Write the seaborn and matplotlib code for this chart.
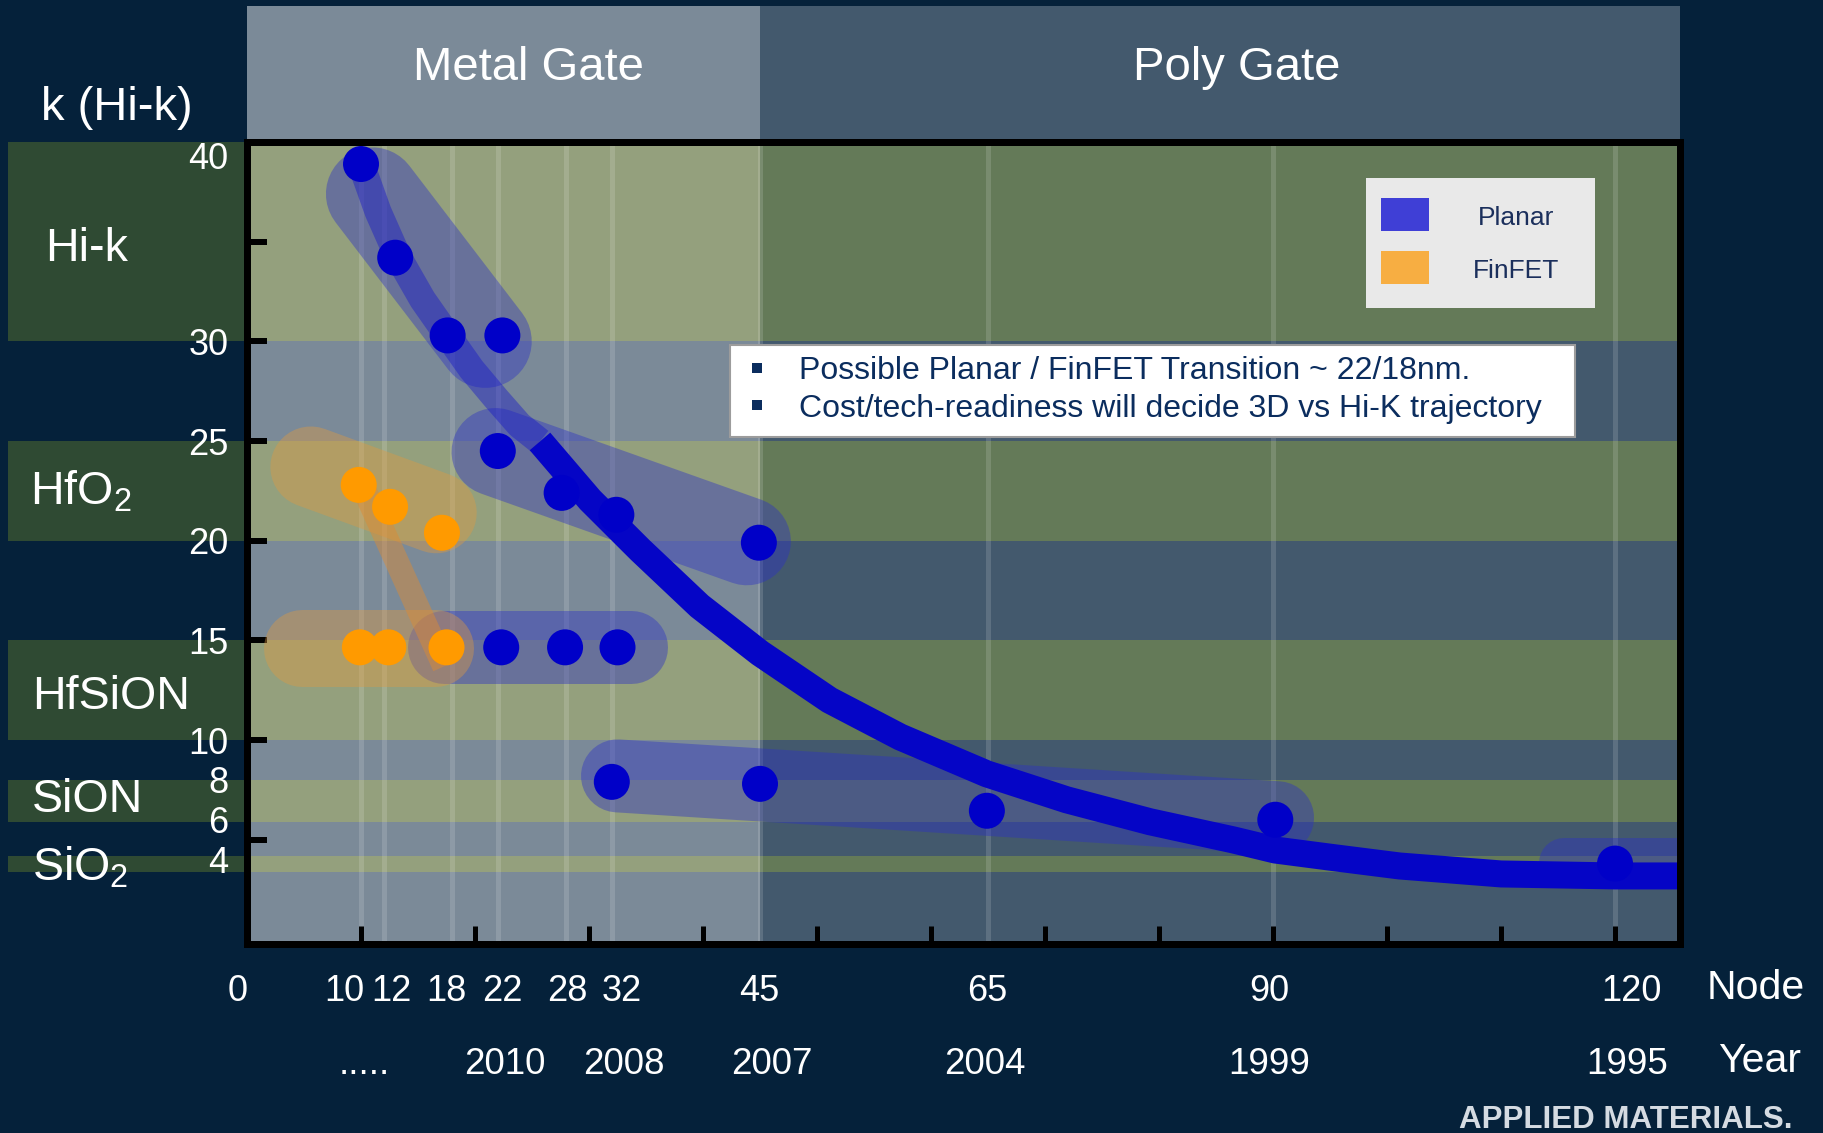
import matplotlib
matplotlib.use("Agg")
import matplotlib.pyplot as plt
from matplotlib.patches import Rectangle
import pandas as pd
import seaborn as sns

# ------------------------------------------------------------------ data
# dielectric constant k against technology node (nm)
planar_node = [10.0, 13.0, 17.6, 22.4, 22.0, 27.6, 32.4, 44.9,
               22.3, 27.9, 32.5, 32.0, 45.0, 64.9, 90.2, 120.0]
planar_k = [38.9, 34.2, 30.3, 30.3, 24.5, 22.4, 21.3, 19.9,
            14.65, 14.65, 14.65, 7.9, 7.8, 6.45, 6.0, 3.8]
finfet_node = [9.8, 12.55, 17.1, 9.9, 12.4, 17.5]
finfet_k = [22.8, 21.7, 20.4, 14.65, 14.65, 14.65]

# k-vs-node trajectory: faded projection below ~25nm, solid history above
trend_early_node = [10.0, 11.5, 13.2, 15.4, 17.6, 19.7, 21.9, 23.9, 25.7]
trend_early_k = [38.9, 36.5, 34.3, 32.1, 30.3, 28.6, 27.1, 25.8, 24.98]
trend_node = [25.7, 30.1, 34.5, 39.7, 45.0, 51.1, 57.3, 64.9, 71.9, 79.2,
              86.5, 90.2, 95.3, 101.1, 110.0, 120.0, 125.7]
trend_k = [24.98, 22.04, 19.53, 16.72, 14.36, 12.0, 10.15, 8.3, 7.0, 5.9,
           4.99, 4.48, 4.10, 3.68, 3.28, 3.18, 3.18]

# FinFET path from HfO2 down to HfSiON
finfet_path_node = [9.7, 17.3]
finfet_path_k = [23.3, 13.7]

# material groupings (node/k of both ends of each grouping)
group_tech = ["Planar", "Planar", "Planar", "Planar", "Planar", "FinFET", "FinFET"]
group_node_from = [11.0, 21.8, 17.3, 32.5, 115.5, 5.6, 4.8]
group_node_to = [20.9, 43.85, 33.7, 90.4, 135.0, 16.6, 16.5]
group_k_from = [37.4, 24.45, 14.65, 8.2, 3.85, 23.7, 14.63]
group_k_to = [30.0, 19.97, 14.65, 6.1, 3.85, 21.4, 14.63]

# dielectric material bands on the k axis
material_names = ["Hi-k", "HfO$_2$", "HfSiON", "SiON", "SiO$_2$"]
material_k_low = [30, 20, 10, 5.9, 3.4]
material_k_high = [40, 25, 15, 8, 4.2]

# gate technology eras along the node axis
gate_names = ["Metal Gate", "Poly Gate"]
gate_node_from = [0, 45]
gate_node_to = [45, 125.7]

node_ticks = [0, 10, 12, 18, 22, 28, 32, 45, 65, 90, 120]
node_labels = ["0", "10", "12", "18", "22", "28", "32", "45", "65", "90", "120"]
year_nodes = [11, 22, 32, 45, 65, 90, 120]
year_labels = [".....", "2010", "2008", "2007", "2004", "1999", "1995"]

k_ticks = [4, 6, 8, 10, 15, 20, 25, 30, 40]
k_marks = [5, 10, 15, 20, 25, 30, 35]

notes = ["Possible Planar / FinFET Transition ~ 22/18nm.",
         "Cost/tech-readiness will decide 3D vs Hi-K trajectory"]
legend_names = ["Planar", "FinFET"]

# ------------------------------------------------------------------ style
W, H, DPI = 1823, 1133, 100
PT = 72 / DPI  # points per pixel

sns.set_theme(style="white")
plt.rcParams["font.family"] = ["Liberation Sans", "DejaVu Sans"]
plt.rcParams["mathtext.default"] = "regular"

tech_colors = {"Planar": "#0000c8", "FinFET": "#ff9a00"}
group_colors = {"Planar": ("#2d32c3", 0.42), "FinFET": ("#e09a40", 0.40)}
group_width_px = [93, 88, 73, 73, 50, 81, 77]
gate_plain = ["#7b8a98", "#43596d"]
gate_band = ["#94a07d", "#647a58"]
gate_label_node = [24.7, 86.8]
node_label_shift = {0: -0.8, 10: -1.5, 12: 0.7, 18: -0.5, 22: 0.4, 28: 0.1,
                    32: 0.9, 45: -0.1, 65: -0.1, 90: -0.3, 120: 1.4}
year_label_shift = {11: -0.7, 22: 0.6, 32: 1.1, 45: 1.05, 65: -0.3, 90: -0.3, 120: 1.1}
navy = "#0b2d5e"


def fpx(x, y):
    """pixel position (from top-left) -> figure fraction"""
    return x / W, 1 - y / H


fig = plt.figure(figsize=(W / DPI, H / DPI), dpi=DPI, facecolor="#05213a")
ax_bottom_px, ax_top_px = 944.3, 142.1
ax = fig.add_axes([247 / W, 1 - ax_bottom_px / H, 1433 / W, (ax_bottom_px - ax_top_px) / H])
ax.set_facecolor("none")
ax.set_xlim(0, 125.7)
ax.set_ylim(-0.25, 40)

x_data_y_axes = ax.get_xaxis_transform()
x_axes_y_data = ax.get_yaxis_transform()
header_top = (ax_bottom_px - 6) / (ax_bottom_px - ax_top_px)
header_base = (ax_bottom_px - 80) / (ax_bottom_px - ax_top_px)

# gate eras: panels running up into the header, with material bands
for name, x0, x1, c_plain, c_band, lx in zip(gate_names, gate_node_from, gate_node_to,
                                             gate_plain, gate_band, gate_label_node):
    ax.add_patch(Rectangle((x0, 0), x1 - x0, header_top, transform=x_data_y_axes,
                           facecolor=c_plain, edgecolor="none", clip_on=False, zorder=0.2))
    for lo, hi in zip(material_k_low, material_k_high):
        ax.add_patch(Rectangle((x0, lo), x1 - x0, hi - lo, facecolor=c_band,
                               edgecolor="none", zorder=0.4))
    ax.text(lx, header_base, name, transform=x_data_y_axes, ha="center", va="baseline",
            fontsize=34, color="white", zorder=8)

# material label boxes in the left margin
for lo, hi in zip(material_k_low, material_k_high):
    ax.add_patch(Rectangle((-(247 - 8) / 1433, lo), (247 - 8) / 1433, hi - lo,
                           transform=x_axes_y_data, facecolor="#2f4a33", edgecolor="none",
                           clip_on=False, zorder=0.3))
material_label_px = [(45, 261), (30, 504), (32, 709), (32, 812), (32, 881)]
for name, (lx, ly) in zip(material_names, material_label_px):
    fig.text(*fpx(lx, ly), name, ha="left", va="baseline", fontsize=33.5, color="white")

# node grid lines
for n in node_ticks[1:]:
    ax.axvline(n, color="white", alpha=0.14, lw=5 * PT, zorder=1)

# material groupings as translucent capsules
for tech, x0, x1, y0, y1, wpx in zip(group_tech, group_node_from, group_node_to,
                                     group_k_from, group_k_to, group_width_px):
    col, a = group_colors[tech]
    ax.plot([x0, x1], [y0, y1], color=col, alpha=a, lw=wpx * PT,
            solid_capstyle="round", zorder=3)

ax.plot(finfet_path_node, finfet_path_k, color="#e08a30", alpha=0.45, lw=24 * PT,
        solid_capstyle="butt", zorder=3.5)

# k trajectory
sns.lineplot(x=trend_early_node, y=trend_early_k, sort=False, estimator=None, ax=ax,
             color="#1414c8", alpha=0.42, lw=27 * PT, solid_capstyle="butt",
             solid_joinstyle="round", zorder=4)
sns.lineplot(x=trend_node, y=trend_k, sort=False, estimator=None, ax=ax,
             color="#0505c6", lw=27 * PT, solid_capstyle="butt",
             solid_joinstyle="round", zorder=4.5)

# data points
df = pd.DataFrame({
    "node": planar_node + finfet_node,
    "k": planar_k + finfet_k,
    "tech": ["Planar"] * len(planar_node) + ["FinFET"] * len(finfet_node),
})
sns.scatterplot(data=df, x="node", y="k", hue="tech", palette=tech_colors,
                s=(36 * PT) ** 2, linewidth=0, legend=False, ax=ax, zorder=6)
ax.set_xlabel("")
ax.set_ylabel("")

# frame and ticks
ax.set_axisbelow(False)
for sp in ax.spines.values():
    sp.set_visible(True)
    sp.set_color("black")
    sp.set_linewidth(7 * PT)
    sp.set_zorder(7)

ax.set_xticks(range(10, 121, 10))
ax.tick_params(axis="x", which="major", direction="in", length=18 * PT, width=5 * PT,
               color="black", bottom=True, top=False, labelbottom=False)
ax.yaxis.remove_overlapping_locs = False
ax.set_yticks(k_ticks, labels=[str(k) for k in k_ticks])
ax.set_yticks(k_marks, minor=True)
ax.tick_params(axis="y", which="major", length=0, pad=13.5, labelsize=26,
               labelcolor="white", left=True)
ax.tick_params(axis="y", which="minor", direction="in", length=20 * PT, width=6 * PT,
               color="black", left=True, right=False)
ax.get_yticklabels()[-1].set_va("top")

# node and year rows
node_base = -(1001 - ax_bottom_px) / (ax_bottom_px - ax_top_px)
year_base = -(1074 - ax_bottom_px) / (ax_bottom_px - ax_top_px)
for n, lab in zip(node_ticks, node_labels):
    ax.text(n + node_label_shift[n], node_base, lab, transform=x_data_y_axes,
            ha="center", va="baseline", fontsize=26, color="white", clip_on=False)
for n, lab in zip(year_nodes, year_labels):
    ax.text(n + year_label_shift[n], year_base, lab, transform=x_data_y_axes,
            ha="center", va="baseline", fontsize=26.5, color="white", clip_on=False)

fig.text(*fpx(1756, 999), "Node", ha="center", va="baseline", fontsize=29.5, color="white")
fig.text(*fpx(1760, 1072), "Year", ha="center", va="baseline", fontsize=29.5, color="white")
fig.text(*fpx(41, 120), "k (Hi-k)", ha="left", va="baseline", fontsize=34, color="white")
fig.text(*fpx(1459, 1128), "APPLIED MATERIALS.", ha="left", va="baseline",
         fontsize=22.5, fontweight="bold", color="#d5dbe2")

# legend
fig.add_artist(Rectangle(fpx(1366, 308), 229 / W, 130 / H, transform=fig.transFigure,
                         facecolor="#e9e9e9", edgecolor="none", zorder=10))
legend_swatch = {"Planar": "#3f3fd6", "FinFET": "#f7ae42"}
for name, sy, base in zip(legend_names, [198, 251], [225, 278]):
    fig.add_artist(Rectangle(fpx(1381, sy + 33), 48 / W, 33 / H, transform=fig.transFigure,
                             facecolor=legend_swatch[name], edgecolor="none", zorder=11))
    fig.text(*fpx(1516, base), name, ha="center", va="baseline", fontsize=19,
             color="#1b2f5c", zorder=12)

# note box
fig.add_artist(Rectangle(fpx(730, 437), 845 / W, 92 / H, transform=fig.transFigure,
                         facecolor="white", edgecolor="#9c9c9c", lw=1.5, zorder=10))
for line, base, by in zip(notes, [379, 416.7], [363, 400]):
    fig.add_artist(Rectangle(fpx(752, by + 10), 10 / W, 10 / H, transform=fig.transFigure,
                             facecolor=navy, edgecolor="none", zorder=11))
    fig.text(*fpx(799, base), line, ha="left", va="baseline", fontsize=23,
             color=navy, zorder=12)

fig.savefig("out.png", dpi=DPI, facecolor=fig.get_facecolor())
